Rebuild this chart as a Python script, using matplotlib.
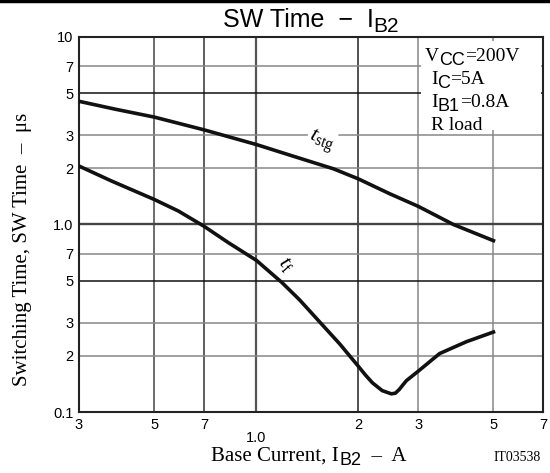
import matplotlib
matplotlib.use("Agg")
import matplotlib.pyplot as plt
from matplotlib.lines import Line2D
from matplotlib.patches import Rectangle

plt.rcParams['mathtext.fontset'] = 'custom'
plt.rcParams['mathtext.rm'] = 'Liberation Serif'
plt.rcParams['mathtext.it'] = 'Liberation Serif:italic'
plt.rcParams['mathtext.sf'] = 'Liberation Sans'

# base current IB2 (A) and switching times (us)
ib2_tstg = [0.3, 0.384, 0.5, 0.7, 1.0, 1.25, 1.69, 2.0, 2.47, 3.0, 3.81, 5.0]
tstg = [4.54, 4.12, 3.74, 3.2, 2.67, 2.35, 1.98, 1.75, 1.46, 1.25, 1.0, 0.82]

ib2_tf = [0.3, 0.373, 0.5, 0.589, 0.7, 0.827, 1.0, 1.19, 1.34, 1.53, 1.76, 2.0,
          2.1, 2.2, 2.35, 2.5, 2.57, 2.64, 2.7, 2.77, 3.0, 3.47, 4.16, 5.0]
tf = [2.05, 1.71, 1.36, 1.18, 0.98, 0.80, 0.644, 0.49, 0.397, 0.305, 0.231, 0.175,
      0.157, 0.143, 0.130, 0.125, 0.126, 0.132, 0.139, 0.147, 0.165, 0.205, 0.237, 0.267]

x_ticks = [0.3, 0.5, 0.7, 1.0, 2.0, 3.0, 5.0, 7.0]
x_labels = ["3", "5", "7", "1.0", "2", "3", "5", "7"]
y_ticks = [0.1, 0.2, 0.3, 0.5, 0.7, 1.0, 2.0, 3.0, 5.0, 7.0, 10.0]
y_labels = ["0.1", "2", "3", "5", "7", "1.0", "2", "3", "5", "7", "10"]

# grid line colours
x_grid = {0.5: "#444444", 0.7: "#333333", 1.0: "#555555", 2.0: "#222222",
          3.0: "#888888", 5.0: "#888888"}
y_grid = {0.2: "#888888", 0.3: "#888888", 0.5: "#111111", 0.7: "#888888",
          1.0: "#444444", 2.0: "#888888", 3.0: "#888888", 5.0: "#111111",
          7.0: "#888888"}

W, H = 550, 473
fig = plt.figure(figsize=(5.5, 4.73), dpi=100)
ax = fig.add_axes([79/W, 61/H, 464/W, 375/H])
ax.set_xscale("log")
ax.set_yscale("log")
ax.set_xlim(0.3, 7)
ax.set_ylim(0.1, 10)

for v, c in x_grid.items():
    ax.axvline(v, color=c, lw=1.6 if v == 1.0 else 1.1, zorder=1)
for v, c in y_grid.items():
    ax.axhline(v, color=c, lw=1.7 if v == 1.0 else 1.1, zorder=1)

ax.plot(ib2_tstg, tstg, color="#111111", lw=2.6, zorder=3, solid_joinstyle="round")
ax.plot(ib2_tf, tf, color="#111111", lw=2.6, zorder=3, solid_joinstyle="round")

ax.text(1.55, 2.78, r"$t_{\mathrm{stg}}$", fontsize=16, rotation=-20, ha="center",
        va="center", zorder=2, bbox=dict(facecolor="white", edgecolor="none", pad=1))
ax.text(1.22, 0.61, r"$t_{\mathrm{f}}$", fontsize=16, rotation=-48, ha="center",
        va="center", zorder=4)

# white patch behind the conditions text
ax.add_patch(Rectangle(((421 - 79) / 464, (412 - 130) / 375), 120 / 464, 89 / 375,
                       transform=ax.transAxes, facecolor="white", edgecolor="none",
                       zorder=2))

ax.minorticks_off()
ax.set_xticks(x_ticks)
ax.set_xticklabels(x_labels, family="Liberation Sans", fontsize=10.5)
ax.set_yticks(y_ticks)
ax.set_yticklabels(y_labels, family="Liberation Sans", fontsize=10.5)
ax.tick_params(length=0, pad=4)
for lab, v in zip(ax.get_xticklabels(), x_ticks):
    if v == 1.0:
        lab.set_y(-0.035)
for s in ax.spines.values():
    s.set_linewidth(1.5)
    s.set_color("#222222")

ax.set_ylabel("Switching Time, SW Time  \u2013  \u03bcs", family="Liberation Serif",
              fontsize=15)
ax.yaxis.set_label_coords(-0.101, 0.435)

renderer = fig.canvas.get_renderer()


def pieces(x, y, parts, ha="left"):
    # parts: (text, fontsize, family, drop in px); x, y in pixels from top-left
    arts = []
    cx = x
    for txt, size, fam, drop in parts:
        t = fig.text(cx / W, 1 - (y + drop) / H, txt, fontsize=size, family=fam,
                     ha="left", va="baseline", zorder=5)
        cx = t.get_window_extent(renderer).x1
        arts.append(t)
    if ha == "center":
        shift = (cx - x) / 2
        for t in arts:
            px, py = t.get_position()
            t.set_position((px - shift / W, py))


serif, sans = "Liberation Serif", "Liberation Sans"
pieces(311, 27, [("SW Time  \u2212  I", 18, sans, 0), ("B2", 15, sans, 5)], ha="center")
pieces(309, 461, [("Base Current, I", 15, serif, 0), ("B2", 13, sans, 4),
                  ("  \u2013  A", 15, serif, 0)], ha="center")
fig.text(541/W, 1 - 461/H, "IT03538", family=serif, fontsize=10, ha="right",
         va="baseline")

cond = [[("V", 14, serif, 0), ("CC", 13, sans, 4), ("=200V", 14, serif, 0)],
        [("I", 14, serif, 0), ("C", 13, sans, 4), ("=5A", 14, serif, 0)],
        [("I", 14, serif, 0), ("B1", 13, sans, 4), ("=0.8A", 14, serif, 0)],
        [("R load", 14, serif, 0)]]
for i, line in enumerate(cond):
    pieces(425 if i == 0 else 431, 61 + 23 * i, line)

fig.add_artist(Line2D([0, 1], [0.998, 0.998], transform=fig.transFigure,
                      color="black", lw=2.5))

fig.savefig("out.png", dpi=100)
